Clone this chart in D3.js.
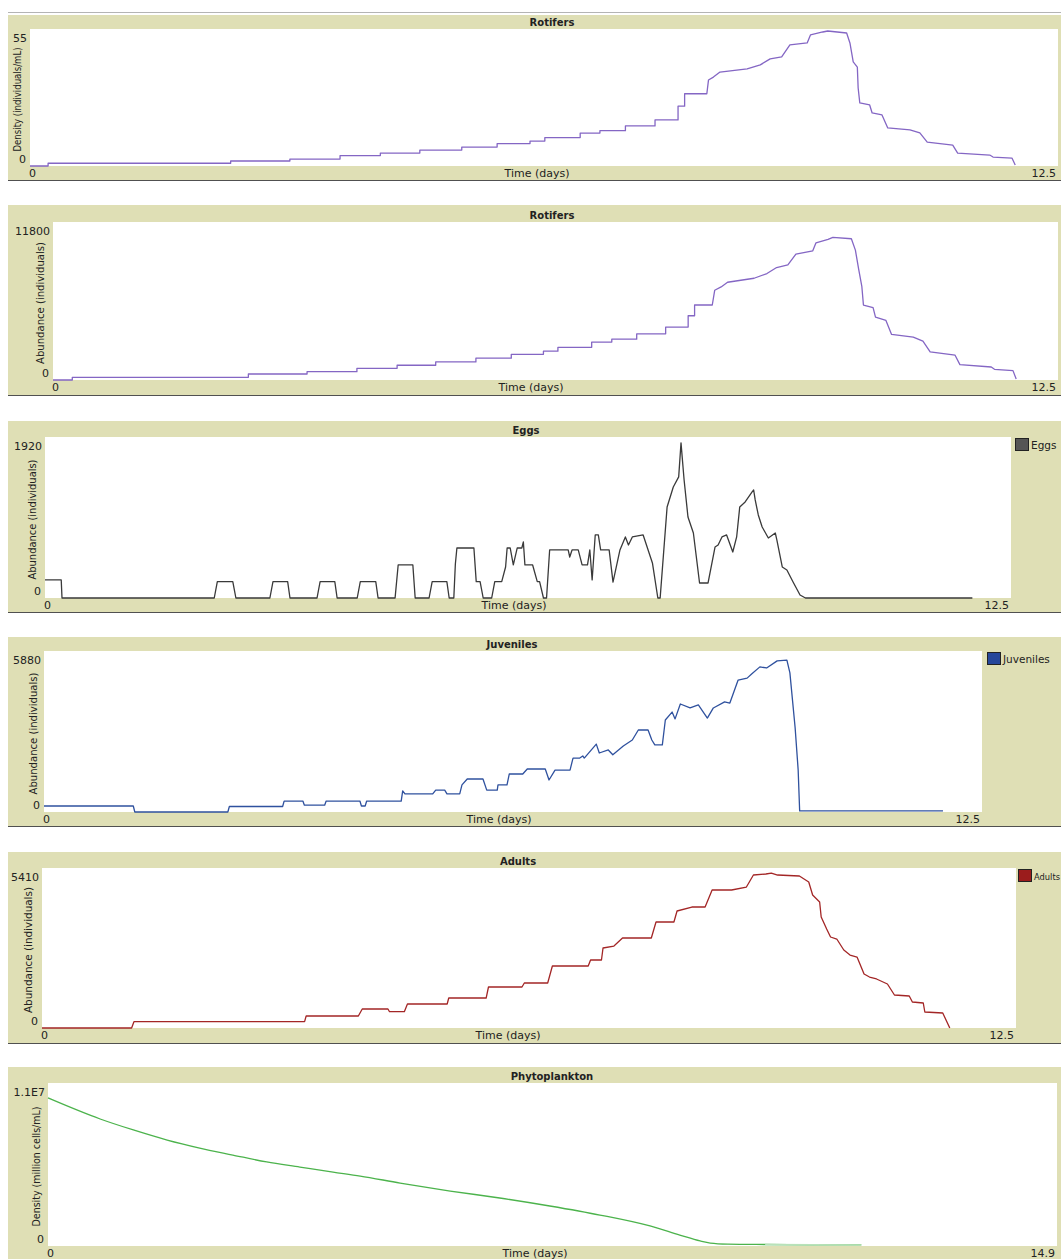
<!DOCTYPE html>
<html>
<head>
<meta charset="utf-8">
<script src="https://cdn.jsdelivr.net/npm/d3@7"></script>
<style>
  body { margin: 0; background: #fff; }
  text { font-family: "DejaVu Sans", sans-serif; fill: #222; }
</style>
</head>
<body>
<svg id="chart" width="1061" height="1259"></svg>
<script>
// ---- values: [time (days), value] ----
const rotiferDensity = [[0,0],[0.22,0],[0.22,1.1],[2.44,1.1],[2.44,2.0],[3.16,2.0],[3.16,2.8],[3.77,2.8],[3.77,4.2],
  [4.26,4.2],[4.26,5.2],[4.74,5.2],[4.74,6.4],[5.25,6.4],[5.25,7.6],[5.68,7.6],[5.68,9.0],[6.08,9.0],[6.08,10.0],
  [6.26,10.0],[6.26,11.4],[6.69,11.4],[6.69,13.2],[6.93,13.2],[6.93,14.2],[7.24,14.2],[7.24,16.1],[7.60,16.1],
  [7.60,18.5],[7.88,18.5],[7.88,24],[7.96,24],[7.96,29],[8.23,29],[8.25,34.5],[8.31,35.7],[8.39,37.7],[8.72,39.0],
  [8.88,40.6],[9.00,43.0],[9.14,43.8],[9.24,48.6],[9.45,49.4],[9.49,52.6],[9.64,53.8],[9.70,54.2],[9.93,53.4],
  [9.97,49.4],[10.01,41.8],[10.06,39.7],[10.07,31.3],[10.09,25.3],[10.21,24.5],[10.24,21.3],[10.36,20.5],
  [10.43,15.3],[10.70,14.5],[10.82,13.3],[10.91,9.6],[11.22,8.4],[11.28,5.2],[11.67,4.4],[11.71,3.6],[11.94,3.2],[11.98,0.4]];

const rotiferAbundance = [[0,0],[0.24,0],[0.24,200],[2.43,200],[2.43,450],[3.16,450],[3.16,620],[3.78,620],[3.78,870],
  [4.28,870],[4.28,1100],[4.76,1100],[4.76,1350],[5.26,1350],[5.26,1630],[5.70,1630],[5.70,1920],[6.10,1920],
  [6.10,2150],[6.28,2150],[6.28,2440],[6.70,2440],[6.70,2830],[6.95,2830],[6.95,3050],[7.26,3050],[7.26,3450],
  [7.62,3450],[7.62,3950],[7.90,3950],[7.90,4800],[7.98,4800],[7.98,5600],[8.20,5600],[8.23,6700],[8.31,6950],
  [8.39,7300],[8.72,7600],[8.88,7950],[9.00,8400],[9.14,8600],[9.24,9400],[9.45,9650],[9.49,10250],[9.64,10500],
  [9.70,10650],[9.93,10550],[9.98,9700],[10.02,8300],[10.06,7000],[10.08,5600],[10.20,5400],[10.23,4700],
  [10.36,4450],[10.43,3400],[10.70,3200],[10.82,2900],[10.91,2100],[11.22,1850],[11.28,1150],[11.67,970],
  [11.71,800],[11.94,700],[11.98,80]];

const eggs = [[0,215],[0.21,215],[0.22,0],[2.19,0],[2.23,195],[2.43,195],[2.47,0],[2.91,0],[2.95,195],[3.14,195],
  [3.17,0],[3.52,0],[3.56,195],[3.75,195],[3.78,0],[4.04,0],[4.08,195],[4.28,195],[4.31,0],[4.53,0],[4.57,394],
  [4.76,394],[4.79,0],[4.97,0],[5.01,195],[5.20,195],[5.23,0],[5.29,0],[5.31,405],[5.33,596],[5.55,596],[5.58,195],
  [5.63,195],[5.67,0],[5.78,0],[5.82,195],[5.91,195],[5.96,370],[5.98,596],[6.02,596],[6.06,394],[6.11,596],
  [6.17,596],[6.19,668],[6.21,394],[6.31,394],[6.37,195],[6.40,195],[6.45,0],[6.49,0],[6.53,573],[6.77,573],
  [6.79,489],[6.82,573],[6.90,573],[6.95,394],[7.02,394],[7.05,573],[7.08,215],[7.12,752],[7.16,752],[7.19,573],
  [7.30,573],[7.35,190],[7.44,573],[7.51,728],[7.55,632],[7.60,728],[7.74,752],[7.86,418],[7.93,0],[7.96,0],
  [8.05,1086],[8.13,1324],[8.20,1444],[8.23,1850],[8.27,1408],[8.32,966],[8.39,775],[8.47,179],[8.58,179],
  [8.67,608],[8.71,632],[8.76,728],[8.82,752],[8.90,549],[8.95,728],[8.99,1086],[9.06,1145],[9.15,1265],
  [9.17,1288],[9.19,1169],[9.23,990],[9.28,847],[9.36,716],[9.45,775],[9.47,692],[9.54,370],[9.60,334],
  [9.68,191],[9.77,36],[9.84,0],[12.0,0]];

const juveniles = [[0,220],[1.19,220],[1.21,0],[2.45,0],[2.47,200],[3.18,200],[3.20,400],[3.45,400],[3.47,250],
  [3.74,250],[3.76,400],[4.21,400],[4.23,220],[4.28,220],[4.30,400],[4.76,400],[4.78,770],[4.81,660],[5.18,660],
  [5.22,800],[5.34,800],[5.37,660],[5.54,660],[5.57,990],[5.64,1205],[5.85,1205],[5.90,800],[6.04,800],[6.05,990],
  [6.17,990],[6.20,1387],[6.38,1387],[6.44,1570],[6.68,1570],[6.73,1170],[6.81,1530],[7.01,1530],[7.05,1970],
  [7.14,1970],[7.18,2045],[7.20,1970],[7.36,2480],[7.40,2155],[7.52,2265],[7.58,2090],[7.72,2410],[7.84,2630],
  [7.92,2995],[8.05,2995],[8.10,2630],[8.14,2450],[8.24,2450],[8.28,3360],[8.37,3650],[8.41,3400],[8.48,3945],
  [8.61,3800],[8.72,3910],[8.84,3430],[8.92,3800],[9.07,4020],[9.14,3980],[9.25,4820],[9.37,4890],[9.43,5040],
  [9.54,5300],[9.63,5260],[9.77,5520],[9.90,5550],[9.94,5080],[10.01,3070],[10.05,1540],[10.07,40],[11.98,40]];

const adults = [[0,0],[1.15,0],[1.18,213],[3.37,213],[3.39,406],[4.06,406],[4.11,642],[4.44,642],[4.46,551],
  [4.65,551],[4.69,811],[5.20,811],[5.22,1014],[5.70,1014],[5.73,1386],[6.16,1386],[6.19,1521],[6.49,1521],
  [6.55,2096],[7.01,2096],[7.04,2299],[7.18,2299],[7.20,2705],[7.34,2772],[7.45,3043],[7.82,3043],[7.88,3584],
  [8.11,3584],[8.15,3956],[8.34,4091],[8.51,4091],[8.60,4666],[8.85,4666],[9.04,4767],[9.13,5173],[9.29,5207],
  [9.36,5240],[9.44,5173],[9.72,5140],[9.84,4937],[9.89,4497],[9.98,4260],[10.00,3753],[10.07,3347],[10.12,3077],
  [10.20,3009],[10.29,2637],[10.37,2468],[10.46,2400],[10.55,1826],[10.62,1724],[10.71,1657],[10.85,1488],
  [10.94,1116],[11.13,1082],[11.17,879],[11.31,845],[11.33,541],[11.56,507],[11.65,0]];

const phytoplankton = [[0,9.99e6],[0.77,8.57e6],[1.26,7.83e6],[1.76,7.15e6],[2.24,6.61e6],[2.73,6.14e6],
  [3.23,5.67e6],[3.72,5.33e6],[4.21,4.99e6],[4.61,4.72e6],[5.20,4.25e6],[5.94,3.71e6],[6.67,3.24e6],
  [7.41,2.70e6],[8.15,2.09e6],[8.89,1.35e6],[9.33,0.74e6],[9.63,0.34e6],[9.78,0.2e6],[10.04,0.13e6],
  [10.59,0.1e6],[12.01,0.07e6]];

// ---- plot labels / axis ranges ----
const seriesData = [rotiferDensity, rotiferAbundance, eggs, juveniles, adults, phytoplankton];
const plotTitles = ["Rotifers", "Rotifers", "Eggs", "Juveniles", "Adults", "Phytoplankton"];
const yTitles = ["Density (individuals/mL)", "Abundance (individuals)", "Abundance (individuals)",
  "Abundance (individuals)", "Abundance (individuals)", "Density (million cells/mL)"];
const legendNames = [null, null, "Eggs", "Juveniles", "Adults", null];
const xMax = [12.5, 12.5, 12.5, 12.5, 12.5, 14.9];
const yMax = [55, 11800, 1920, 5880, 5410, 1.1e7];
const yMaxLabels = ["55", "11800", "1920", "5880", "5410", "1.1E7"];
const xMaxLabels = ["12.5", "12.5", "12.5", "12.5", "12.5", "14.9"];

// ---- layout of each NetLogo plot widget ----
const layout = [
  {top: 15,   bottom: 180,  l: 30, r: 1058, t: 29,   b: 166,  titleX: 552, xlabX: 537, ytX: 17, ytLen: 104, color: "#8466c4"},
  {top: 205,  bottom: 395,  l: 53, r: 1058, t: 222,  b: 380,  titleX: 552, xlabX: 531, ytX: 40, ytLen: 122, color: "#8466c4"},
  {top: 421,  bottom: 612,  l: 45, r: 1011, t: 437,  b: 598,  titleX: 526, xlabX: 514, ytX: 32, ytLen: 120, color: "#3a3a3a", swatch: "#555555", legX: 1015},
  {top: 637,  bottom: 826,  l: 44, r: 982,  t: 651,  b: 812,  titleX: 512, xlabX: 499, ytX: 33, ytLen: 122, color: "#2f519e", swatch: "#26479a", legX: 987},
  {top: 852,  bottom: 1043, l: 42, r: 1016, t: 868,  b: 1028, titleX: 518, xlabX: 508, ytX: 28, ytLen: 126, color: "#a32626", swatch: "#9b1c1c", legX: 1018, legSize: "9px", legLen: 26},
  {top: 1067, bottom: 1262, l: 48, r: 1057, t: 1083, b: 1246, titleX: 552, xlabX: 535, ytX: 36, ytLen: 120, color: "#4cb34c", smooth: true, tailFrom: 10.5, tailColor: "#b9e2b9"}
];

const beige = "#dfdfb5";
const svg = d3.select("#chart");

// separator line at the very top
svg.append("line")
  .attr("x1", 8).attr("x2", 1061).attr("y1", 12.5).attr("y2", 12.5)
  .attr("stroke", "#b4b4b4").attr("stroke-width", 1);

layout.forEach((p, i) => {
  const g = svg.append("g");

  g.append("rect")
    .attr("x", 8).attr("y", p.top)
    .attr("width", 1061 - 8).attr("height", p.bottom - p.top)
    .attr("fill", beige);

  g.append("line")
    .attr("x1", 8).attr("x2", 1061).attr("y1", p.bottom + 0.5).attr("y2", p.bottom + 0.5)
    .attr("stroke", "#505050").attr("stroke-width", 1.2);

  g.append("rect")
    .attr("x", p.l).attr("y", p.t)
    .attr("width", p.r - p.l).attr("height", p.b - p.t)
    .attr("fill", "#fff");

  const x = d3.scaleLinear().domain([0, xMax[i]]).range([p.l, p.r]);
  const y = d3.scaleLinear().domain([0, yMax[i]]).range([p.b, p.t]);

  const line = d3.line()
    .x(d => x(d[0]))
    .y(d => y(d[1]))
    .curve(p.smooth ? d3.curveMonotoneX : d3.curveLinear);

  g.append("path")
    .datum(seriesData[i])
    .attr("d", line)
    .attr("fill", "none")
    .attr("stroke", p.color)
    .attr("stroke-width", 1.3)
    .attr("stroke-linejoin", "round");

  if (p.tailFrom !== undefined) {
    g.append("path")
      .datum(seriesData[i].filter(d => d[0] >= p.tailFrom))
      .attr("d", line)
      .attr("fill", "none")
      .attr("stroke", p.tailColor)
      .attr("stroke-width", 1.6);
  }

  // title
  g.append("text")
    .attr("x", p.titleX).attr("y", p.t - 3)
    .attr("text-anchor", "middle")
    .style("font-size", "10px").style("font-weight", "bold")
    .text(plotTitles[i]);

  // y range labels
  g.append("text")
    .attr("x", p.l - 3).attr("y", y(yMax[i]) + 13)
    .attr("text-anchor", "end")
    .style("font-size", "11px")
    .text(yMaxLabels[i]);
  g.append("text")
    .attr("x", p.l - 4).attr("y", y(0) - 3)
    .attr("text-anchor", "end")
    .style("font-size", "11px")
    .text("0");

  // x range labels
  g.append("text")
    .attr("x", x(0) - 1).attr("y", p.b + 11)
    .attr("text-anchor", "start")
    .style("font-size", "11px")
    .text("0");
  g.append("text")
    .attr("x", x(xMax[i]) - 2).attr("y", p.b + 11)
    .attr("text-anchor", "end")
    .style("font-size", "11px")
    .text(xMaxLabels[i]);

  g.append("text")
    .attr("x", p.xlabX).attr("y", p.b + 11)
    .attr("text-anchor", "middle")
    .style("font-size", "11px")
    .text("Time (days)");

  // rotated y title
  const cy = (p.t + p.b) / 2 + 2;
  g.append("text")
    .attr("transform", `translate(${p.ytX},${cy}) rotate(-90)`)
    .attr("text-anchor", "middle")
    .attr("dominant-baseline", "central")
    .attr("textLength", p.ytLen)
    .attr("lengthAdjust", "spacingAndGlyphs")
    .style("font-size", "10px")
    .text(yTitles[i]);

  // legend
  if (legendNames[i]) {
    g.append("rect")
      .attr("x", p.legX + 0.5).attr("y", p.t + 1.5)
      .attr("width", 13).attr("height", 12)
      .attr("fill", p.swatch).attr("stroke", "#222").attr("stroke-width", 1);
    const lt = g.append("text")
      .attr("x", p.legX + 16).attr("y", p.t + 11.5)
      .style("font-size", p.legSize || "10.5px")
      .text(legendNames[i]);
    if (p.legLen) lt.attr("textLength", p.legLen).attr("lengthAdjust", "spacingAndGlyphs");
  }
});
</script>
</body>
</html>
